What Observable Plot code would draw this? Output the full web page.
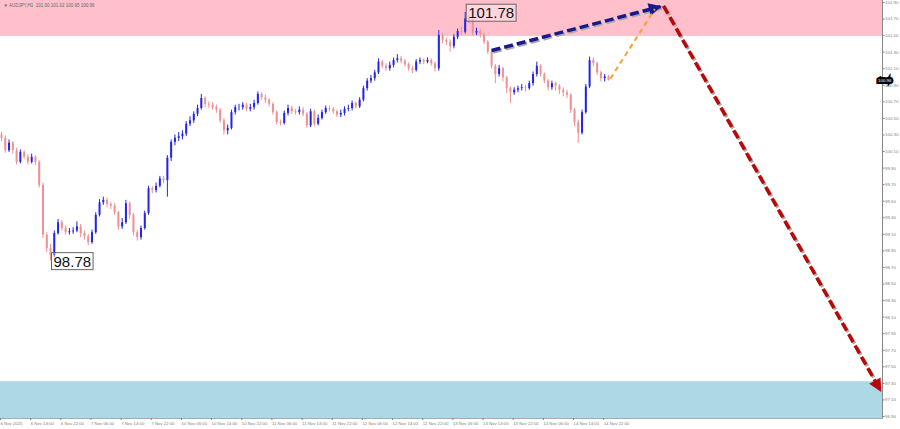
<!DOCTYPE html>
<html><head><meta charset="utf-8">
<script src="https://cdn.jsdelivr.net/npm/d3@7"></script>
<script src="https://cdn.jsdelivr.net/npm/@observablehq/plot@0.6"></script>
<style>body{margin:0;background:#fff;} #chart{width:900px;height:429px;overflow:hidden;}</style>
</head><body><div id="chart"></div>
<script>
// ---------- data ----------
const symbol = "AUDJPY,H1";
const firstOpen = 100.30;
const closes = [
100.26,100.11,100.20,100.11,99.97,100.09,100.03,99.97,100.03,99.97,
99.69,99.09,98.93,98.84,99.11,99.24,99.17,99.12,99.13,99.14,
99.19,99.11,99.07,99.00,99.12,99.33,99.48,99.51,99.46,99.44,
99.36,99.19,99.24,99.47,99.33,99.12,99.06,99.17,99.35,99.65,
99.63,99.68,99.77,99.75,100.02,100.21,100.26,100.28,100.31,100.43,
100.47,100.55,100.62,100.74,100.67,100.66,100.63,100.60,100.47,100.35,
100.38,100.57,100.63,100.63,100.66,100.61,100.63,100.68,100.79,100.75,
100.72,100.67,100.57,100.45,100.44,100.56,100.62,100.58,100.57,100.60,
100.55,100.41,100.58,100.43,100.50,100.57,100.62,100.61,100.58,100.54,
100.56,100.61,100.62,100.68,100.64,100.72,100.86,100.95,100.98,101.05,
101.18,101.13,101.10,101.14,101.20,101.22,101.19,101.15,101.10,101.08,
101.18,101.20,101.18,101.20,101.16,101.10,101.50,101.44,101.42,101.37,
101.48,101.55,101.54,101.70,101.68,101.53,101.55,101.51,101.42,101.30,
101.13,101.03,101.10,100.99,100.86,100.81,100.84,100.86,100.87,100.86,
100.92,101.03,101.13,101.03,100.95,100.87,100.92,100.89,100.84,100.81,
100.78,100.60,100.45,100.32,100.57,100.88,101.20,101.16,101.05,100.98,
101.00,100.96];
const highs = [
100.33,100.29,100.24,100.22,100.14,100.12,100.11,100.06,100.07,100.05,
99.99,99.72,99.12,98.98,99.14,99.28,99.27,99.20,99.17,99.18,
99.25,99.22,99.14,99.10,99.15,99.36,99.52,99.55,99.54,99.49,
99.47,99.38,99.29,99.51,99.49,99.35,99.15,99.20,99.38,99.68,
99.68,99.72,99.80,99.80,100.05,100.24,100.30,100.33,100.35,100.46,
100.52,100.58,100.66,100.79,100.76,100.70,100.69,100.66,100.62,100.50,
100.42,100.60,100.66,100.67,100.69,100.68,100.67,100.72,100.82,100.81,
100.78,100.74,100.69,100.59,100.48,100.59,100.66,100.65,100.61,100.64,
100.63,100.57,100.61,100.60,100.54,100.60,100.65,100.65,100.63,100.60,
100.60,100.64,100.66,100.71,100.70,100.75,100.89,100.98,101.02,101.08,
101.22,101.20,101.16,101.18,101.23,101.27,101.25,101.21,101.17,101.13,
101.21,101.23,101.22,101.23,101.22,101.18,101.56,101.53,101.47,101.45,
101.51,101.58,101.60,101.78,101.74,101.70,101.59,101.58,101.53,101.44,
101.32,101.15,101.14,101.12,101.01,100.88,100.87,100.89,100.91,100.90,
100.95,101.06,101.18,101.15,101.05,100.97,100.95,100.94,100.91,100.87,
100.84,100.80,100.62,100.48,100.60,100.91,101.24,101.23,101.18,101.07,
101.03,101.02];
const lows = [
100.22,100.08,100.09,100.07,99.94,99.95,100.00,99.94,99.95,99.93,
99.66,99.05,98.88,98.78,98.82,99.09,99.14,99.09,99.09,99.10,
99.12,99.06,99.03,98.96,98.98,99.10,99.31,99.45,99.42,99.40,
99.33,99.15,99.16,99.22,99.28,99.08,99.02,99.03,99.15,99.33,
99.59,99.60,99.66,99.71,99.55,99.98,100.17,100.22,100.24,100.28,
100.40,100.44,100.52,100.60,100.63,100.62,100.60,100.56,100.44,100.30,
100.30,100.36,100.54,100.59,100.60,100.58,100.58,100.60,100.66,100.72,
100.68,100.64,100.54,100.42,100.41,100.42,100.53,100.55,100.54,100.54,
100.52,100.38,100.39,100.40,100.41,100.48,100.55,100.58,100.55,100.51,
100.51,100.53,100.58,100.59,100.61,100.62,100.70,100.83,100.92,100.95,
101.03,101.10,101.07,101.07,101.11,101.17,101.16,101.12,101.07,101.04,
101.06,101.15,101.15,101.16,101.13,101.06,101.07,101.40,101.38,101.30,
101.34,101.45,101.50,101.52,101.64,101.50,101.50,101.47,101.39,101.27,
101.10,100.92,101.00,100.94,100.80,100.68,100.78,100.81,100.83,100.82,
100.84,100.89,101.00,101.00,100.92,100.83,100.84,100.83,100.79,100.76,
100.74,100.56,100.40,100.20,100.30,100.55,100.86,101.12,101.02,100.94,
100.94,100.95];
const xTickLabels = ["6 Nov 2025","6 Nov 14:00","6 Nov 22:00","7 Nov 06:00","7 Nov 14:00","7 Nov 22:00",
"10 Nov 06:00","10 Nov 14:00","10 Nov 22:00","11 Nov 06:00","11 Nov 14:00","11 Nov 22:00",
"12 Nov 06:00","12 Nov 14:00","12 Nov 22:00","13 Nov 06:00","13 Nov 14:00","13 Nov 22:00",
"14 Nov 06:00","14 Nov 14:00","14 Nov 22:00"];
const barsPerTick = 8;
const yTicks = [96.90,97.10,97.30,97.50,97.70,97.90,98.10,98.30,98.50,98.70,98.90,99.10,99.30,
99.50,99.70,99.90,100.10,100.30,100.50,100.70,100.90,101.10,101.30,101.50,101.70,101.90];
const resistanceZone = {lo: 101.49, hi: 101.93};
const supportZone = {lo: 96.87, hi: 97.32};
const extremes = [{bar: 13, price: 98.78, label: "98.78"}, {bar: 123, price: 101.78, label: "101.78"}];
const forecastBlue = [{x1: 130, y1: 101.32, x2: 174.8, y2: 101.85}];
const forecastOrange = [{x1: 161.5, y1: 100.98, x2: 173.3, y2: 101.82}];
const forecastRed = [{x1: 175.6, y1: 101.86, x2: 233.2, y2: 97.21}];

// ---------- build ----------
const bars = closes.map((c, i) => ({i, o: i ? closes[i - 1] : firstOpen, h: highs[i], l: lows[i], c}));
const last = bars[bars.length - 1];
const header = `▼ ${symbol}  ${last.o.toFixed(2)} ${last.h.toFixed(2)} ${last.l.toFixed(2)} ${last.c.toFixed(2)}`;
const tickLabelByBar = new Map(xTickLabels.map((t, k) => [k * barsPerTick, t]));
const bull = "#2424e8", bear = "#f09090";
const col = d => d.c >= d.o ? bull : bear;
const gray = "#808080";
const small = "Liberation Sans, Arial, sans-serif";

const plot = Plot.plot({
  width: 900, height: 429,
  marginTop: 0, marginBottom: 11, marginLeft: 0, marginRight: 18,
  style: {fontFamily: small, background: "#fff"},
  x: {domain: [-0.27, 233.7]},
  y: {domain: [96.876, 101.924]},
  marks: [
    Plot.barY([resistanceZone], {y1: "lo", y2: "hi", fill: "#ffc0cb"}),
    Plot.barY([supportZone], {y1: "lo", y2: "hi", fill: "#add8e6"}),
    Plot.frame({anchor: "right", stroke: "#888"}),
    Plot.frame({anchor: "bottom", stroke: "#aaa"}),
    Plot.axisX({ticks: [...tickLabelByBar.keys()], tickFormat: d => tickLabelByBar.get(d),
      textAnchor: "start", tickSize: 2, tickPadding: 1, fontSize: 4.3, fontFamily: small, color: gray, dx: -1, label: null}),
    Plot.axisY({anchor: "right", ticks: yTicks, tickFormat: d => d.toFixed(2),
      tickSize: 1.5, tickPadding: 1, fontSize: 4.4, fontFamily: small, color: gray, label: null}),
    Plot.ruleX(bars, {x: "i", y1: "l", y2: "h", stroke: col, strokeWidth: 1}),
    Plot.ruleX(bars, {x: "i", y1: "o", y2: "c", stroke: col, strokeWidth: 2}),
    // forecast shadows
    Plot.link(forecastBlue, {x1: "x1", y1: "y1", x2: "x2", y2: "y2", stroke: "#aaa", strokeWidth: 3.5, strokeDasharray: "9,4", dx: 1.5, dy: 1.5}),
    Plot.link(forecastRed, {x1: "x1", y1: "y1", x2: "x2", y2: "y2", stroke: "#aaa", strokeWidth: 3.5, strokeDasharray: "9,4", dx: 1.5, dy: 1.5}),
    Plot.link(forecastBlue, {x1: "x1", y1: "y1", x2: "x2", y2: "y2", stroke: "#1a1a8c", strokeWidth: 3.5, strokeDasharray: "9,4", className: "fc-blue"}),
    Plot.link(forecastOrange, {x1: "x1", y1: "y1", x2: "x2", y2: "y2", stroke: "#f7a030", strokeWidth: 2, strokeDasharray: "5,4"}),
    Plot.link(forecastRed, {x1: "x1", y1: "y1", x2: "x2", y2: "y2", stroke: "#b80808", strokeWidth: 3.5, strokeDasharray: "9,4", className: "fc-red"}),
    Plot.text(extremes, {x: "bar", y: "price", text: "label", textAnchor: "start", dx: 3, dy: 1,
      fontSize: 15, fontFamily: small, fill: "#111", className: "extreme-label"}),
    Plot.text([header], {frameAnchor: "top-left", dx: 3, dy: 3, fontSize: 4.5, fill: "#666"}),
    Plot.text([last], {y: "c", text: d => d.c.toFixed(2), frameAnchor: "right", dx: 9, fontSize: 4.4,
      fill: "#fff", stroke: "#000", strokeWidth: 4, strokeLinejoin: "miter"})
  ]
});
document.getElementById("chart").appendChild(plot);

// filled arrowheads and label boxes
const ns = "http://www.w3.org/2000/svg";
const defs = document.createElementNS(ns, "defs");
[["head-blue", "#1a1a8c"], ["head-red", "#b80808"]].forEach(([id, fill]) => {
  const m = document.createElementNS(ns, "marker");
  m.setAttribute("id", id); m.setAttribute("viewBox", "0 0 10 10");
  m.setAttribute("refX", "9"); m.setAttribute("refY", "5");
  m.setAttribute("markerWidth", "18"); m.setAttribute("markerHeight", "13");
  m.setAttribute("markerUnits", "userSpaceOnUse"); m.setAttribute("orient", "auto");
  const p = document.createElementNS(ns, "path");
  p.setAttribute("d", "M0,0L10,5L0,10z"); p.setAttribute("fill", fill);
  m.appendChild(p); defs.appendChild(m);
});
plot.insertBefore(defs, plot.firstChild);
plot.querySelectorAll(".fc-blue path, path.fc-blue").forEach(p => p.setAttribute("marker-end", "url(#head-blue)"));
plot.querySelectorAll(".fc-red path, path.fc-red").forEach(p => p.setAttribute("marker-end", "url(#head-red)"));
plot.querySelectorAll("g.extreme-label text, .extreme-label text").forEach(t => {
  const b = t.getBBox();
  const r = document.createElementNS(ns, "rect");
  r.setAttribute("x", b.x - 2); r.setAttribute("y", b.y);
  r.setAttribute("width", b.width + 4); r.setAttribute("height", b.height);
  r.setAttribute("fill", "rgba(255,255,255,0.35)"); r.setAttribute("stroke", "#666"); r.setAttribute("stroke-width", 1);
  const tr = t.getAttribute("transform");
  if (tr) r.setAttribute("transform", tr);
  t.parentNode.insertBefore(r, t);
});
</script>
</body></html>
